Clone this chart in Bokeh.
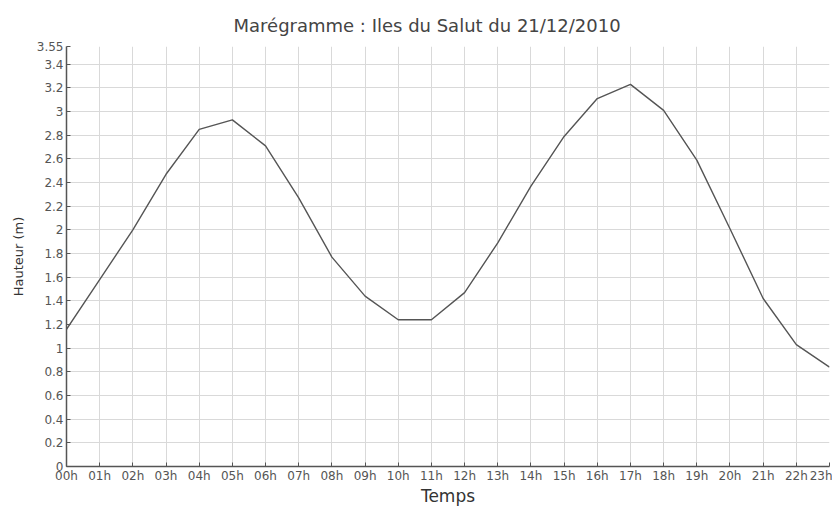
from bokeh.plotting import figure
from bokeh.models import FixedTicker, Range1d
from bokeh.embed import file_html
from bokeh.resources import INLINE

hours = list(range(24))
hour_labels = ["%02dh" % h for h in hours]
heights = [1.16, 1.58, 2.00, 2.47, 2.85, 2.93, 2.71, 2.27, 1.77, 1.44, 1.24, 1.24,
           1.47, 1.89, 2.37, 2.79, 3.11, 3.23, 3.01, 2.59, 2.01, 1.42, 1.03, 0.84]
y_ticks = [0, 0.2, 0.4, 0.6, 0.8, 1, 1.2, 1.4, 1.6, 1.8, 2, 2.2, 2.4, 2.6, 2.8, 3, 3.2, 3.4, 3.55]
y_labels = ["0", "0.2", "0.4", "0.6", "0.8", "1", "1.2", "1.4", "1.6", "1.8", "2",
            "2.2", "2.4", "2.6", "2.8", "3", "3.2", "3.4", "3.55"]
title_text = "Marégramme : Iles du Salut du 21/12/2010"

FONT = "DejaVu Sans"

p = figure(width=832, height=508, output_backend="svg", toolbar_location=None,
           x_range=Range1d(0, 23), y_range=Range1d(0, 3.55),
           min_border_left=66, min_border_right=3, min_border_top=46, min_border_bottom=37)

p.title.text = title_text
p.title.align = "left"
p.title.offset = 167
p.title.text_font = FONT
p.title.text_font_size = "18px"
p.title.text_font_style = "normal"
p.title.text_color = "#444444"
p.title.standoff = 22

p.outline_line_color = None
p.background_fill_color = "white"
p.border_fill_color = "white"

p.xaxis.ticker = FixedTicker(ticks=hours)
p.xaxis.major_label_overrides = {h: lab for h, lab in zip(hours, hour_labels)}
p.yaxis.ticker = FixedTicker(ticks=y_ticks)
p.yaxis.major_label_overrides = {t: lab for t, lab in zip(y_ticks, y_labels)}

p.xaxis.axis_label = "Temps"
p.yaxis.axis_label = "Hauteur (m)"

for ax in (p.xaxis, p.yaxis):
    ax.axis_line_color = "#555555"
    ax.axis_line_width = 1.5
    ax.major_tick_in = 4
    ax.major_tick_out = 0
    ax.major_tick_line_color = "#555555"
    ax.minor_tick_line_color = None
    ax.major_label_text_font = FONT
    ax.major_label_text_font_size = "12px"
    ax.major_label_text_color = "#555555"
    ax.axis_label_text_font = FONT
    ax.axis_label_text_font_style = "normal"
    ax.axis_label_text_color = "#333333"

p.xaxis.major_label_standoff = 2
p.yaxis.major_label_standoff = 3
p.xaxis.axis_label_text_font_size = "17px"
p.xaxis.axis_label_standoff = 0
p.yaxis.axis_label_text_font_size = "13px"
p.yaxis.axis_label_standoff = 8

p.xgrid.grid_line_color = "#d9d9d9"
p.ygrid.grid_line_color = "#d9d9d9"
p.xgrid.grid_line_width = 1
p.ygrid.grid_line_width = 1

p.line(hours, heights, line_color="#555555", line_width=1.4)

open("out.html", "w").write(file_html(p, INLINE))
